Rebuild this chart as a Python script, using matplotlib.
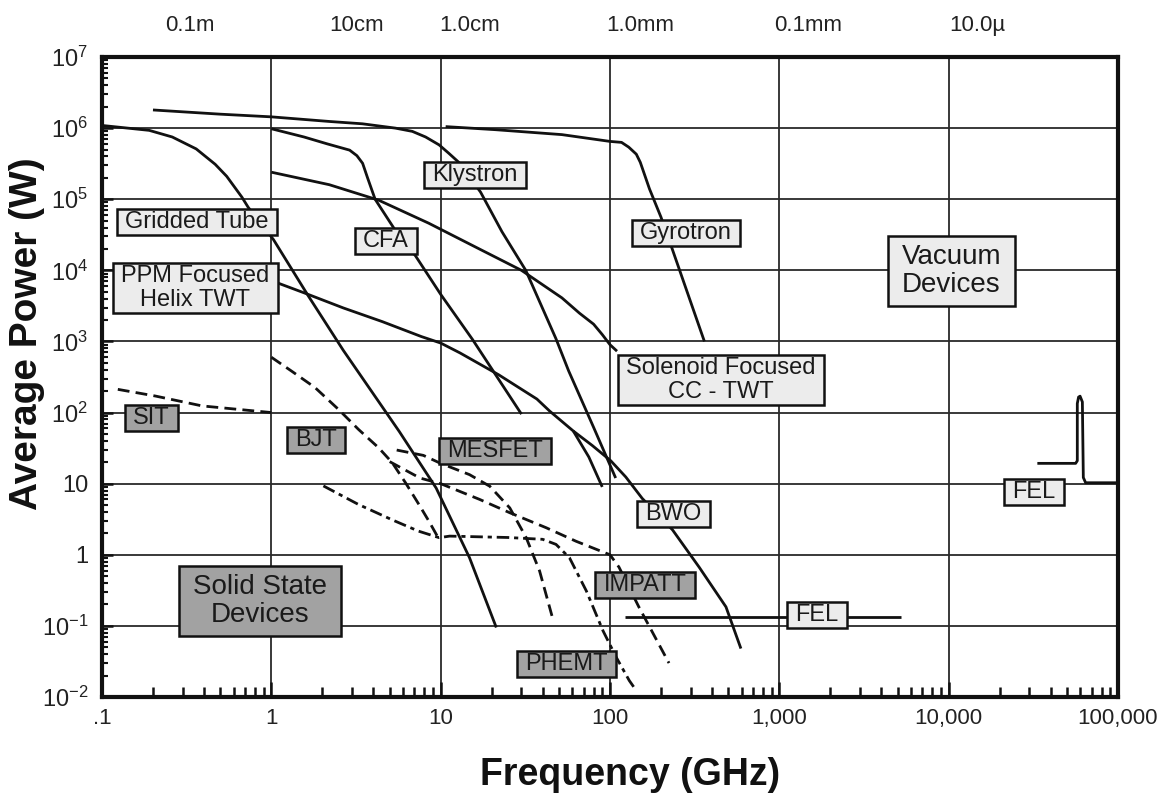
import matplotlib
matplotlib.use('Agg')
import matplotlib.pyplot as plt
from matplotlib.path import Path
from matplotlib.ticker import FixedLocator, NullFormatter

plt.rcParams['font.family'] = ['Liberation Sans', 'DejaVu Sans']
plt.rcParams['mathtext.fontset'] = 'custom'
plt.rcParams['mathtext.rm'] = 'Liberation Sans'
plt.rcParams['mathtext.it'] = 'Liberation Sans:italic'
plt.rcParams['mathtext.bf'] = 'Liberation Sans:bold'
plt.rcParams['lines.scale_dashes'] = False

# ---------------- axis ticks / labels ----------------
freq_ticks = [0.1, 1, 10, 100, 1000, 10000, 100000]
freq_ticklabels = ['.1', '1', '10', '100', '1,000', '10,000', '100,000']
power_ticks = [1e-2, 1e-1, 1, 10, 1e2, 1e3, 1e4, 1e5, 1e6, 1e7]
power_ticklabels = [r'$10^{-2}$', r'$10^{-1}$', '1', '10', r'$10^{2}$',
                    r'$10^{3}$', r'$10^{4}$', r'$10^{5}$', r'$10^{6}$', r'$10^{7}$']
wavelength_pos = [0.33, 3.2, 14.8, 150, 1480, 14800]
wavelength_labels = ['0.1m', '10cm', '1.0cm', '1.0mm', '0.1mm', '10.0\u00b5']

# ---------------- vacuum devices (solid lines) ----------------
klystron_f = [0.2, 0.5, 1, 2.2, 3.45, 5.4, 6.8, 8.15, 9.8, 11.2, 12.8, 17.2, 23, 31.8, 47.9, 57, 80, 108]
klystron_p = [1.8e6, 1.57e6, 1.44e6, 1.24e6, 1.15e6, 1.0e6, 9.0e5, 7.5e5, 5.8e5, 4.4e5, 3.3e5,
              1.26e5, 3.5e4, 1.0e4, 1.1e3, 385, 62, 12]

gridded_f = [0.1, 0.19, 0.26, 0.36, 0.466, 0.545, 0.67, 0.73, 1.03, 1.65, 2.66, 5.7, 9.4, 14.8, 21.3]
gridded_p = [1.09e6, 9.3e5, 7.5e5, 5.1e5, 3.1e5, 2.1e5, 1.07e5, 7.7e4, 2.7e4, 4.4e3, 7.5e2,
             54, 8.7, 0.91, 0.095]

cfa_f = [1, 1.56, 2.14, 2.9, 3.2, 3.46, 3.7, 4.1, 5.3, 7.1, 10, 15.4, 30]
cfa_p = [9.8e5, 7.5e5, 6.0e5, 4.9e5, 4.1e5, 3.2e5, 2.0e5, 1.0e5, 3.9e4, 1.6e4, 4.6e3, 1.07e3, 95]

solenoid_f = [1, 2.2, 4.3, 8.5, 16.9, 30, 52, 66, 80, 90, 100, 110]
solenoid_p = [2.4e5, 1.6e5, 9.7e4, 4.6e4, 2.0e4, 1.0e4, 4.1e3, 2.5e3, 1.75e3, 1.25e3, 9.0e2, 7.3e2]

ppm_f = [1.08, 1.57, 2.66, 4.52, 7.7, 10, 13, 22, 37, 44, 60.7, 75, 90]
ppm_p = [6.7e3, 4.8e3, 2.96e3, 1.9e3, 1.17e3, 950, 690, 340, 155, 105, 55, 23.7, 9]

bwo_f = [60.7, 78.6, 101, 124, 155, 234, 336, 484, 593]
bwo_p = [55, 34.4, 21, 12.4, 6.2, 2.24, 0.67, 0.185, 0.048]

gyrotron_f = [10.7, 21.1, 52, 100, 117, 129, 143, 151, 171, 200, 233, 361]
gyrotron_p = [1.05e6, 9.5e5, 8.1e5, 6.5e5, 6.3e5, 5.4e5, 4.3e5, 3.3e5, 1.4e5, 5.6e4, 2.0e4, 1.0e3]

fel_lo_f = [123, 5200]
fel_lo_p = [0.135, 0.135]

fel_hi_f = [33400, 56200, 57500, 57500, 58500, 59700, 61600, 62400, 64400, 100000]
fel_hi_p = [19.3, 19.3, 21, 134, 165, 170, 141, 12.2, 10.3, 10.3]

# ---------------- solid state devices (dashed lines) ----------------
sit_f = [0.124, 0.206, 0.39, 1]
sit_p = [212, 171, 124, 100]

bjt_f = [1, 1.31, 1.81, 2.49, 3.27, 4.3, 5.17, 6.2, 7.44, 8.5, 9.8]
bjt_p = [600, 386, 225, 111, 58, 32, 19.8, 10.3, 5.1, 3.0, 1.64]

mesfet_f = [5.5, 7.9, 9.9, 14.8, 19.5, 25.6, 32, 38.4, 46]
mesfet_p = [29.7, 25, 19.5, 13.4, 9.2, 4.56, 1.74, 0.59, 0.124]

impatt_f = [5.0, 7.55, 10, 17, 25.6, 42, 63, 100, 113, 148, 223]
impatt_p = [20.4, 12, 10, 6.0, 3.9, 2.4, 1.55, 1.0, 0.67, 0.185, 0.03]

phemt_f = [2.03, 3.27, 5.17, 7.4, 9.8, 11.3, 25, 40, 48, 57.6, 72.5, 91, 109, 130, 142]
phemt_p = [9.3, 5.1, 3.1, 2.15, 1.74, 1.83, 1.75, 1.65, 1.4, 0.91, 0.31, 0.085, 0.036, 0.017, 0.0126]


def box_style(px, py):
    def _box(x0, y0, width, height, mutation_size):
        dx = px * mutation_size
        dy = py * mutation_size
        xa, ya = x0 - dx, y0 - dy
        xb, yb = x0 + width + dx, y0 + height + dy
        return Path([(xa, ya), (xb, ya), (xb, yb), (xa, yb), (xa, ya)], closed=True)
    return _box


W, H = 1170, 797
fig = plt.figure(figsize=(W / 100, H / 100), dpi=100)
L, R, T, B = 102, 1118, 57, 697
ax = fig.add_axes([L / W, 1 - B / H, (R - L) / W, (B - T) / H])
ax.set_xscale('log')
ax.set_yscale('log')
ax.set_xlim(0.1, 1e5)
ax.set_ylim(1e-2, 1e7)

ink = '#111111'
ax.grid(True, which='major', color='#2a2a2a', lw=1.3, zorder=1)
for s in ax.spines.values():
    s.set_linewidth(3.0)
    s.set_color(ink)
    s.set_zorder(6)

ax.xaxis.set_major_locator(FixedLocator(freq_ticks))
ax.set_xticklabels(freq_ticklabels)
ax.yaxis.set_major_locator(FixedLocator(power_ticks))
ax.set_yticklabels(power_ticklabels)
ax.tick_params(axis='both', which='both', direction='in', top=False, right=False, color=ink)
ax.tick_params(axis='x', which='major', length=11, width=1.8, labelsize=16, pad=8, labelcolor='#222')
ax.tick_params(axis='x', which='minor', length=7, width=1.8)
ax.tick_params(axis='y', which='major', length=8, width=1.8, labelsize=17, pad=10, labelcolor='#222')
ax.tick_params(axis='y', which='minor', length=4, width=1.5)
ax.yaxis.set_minor_formatter(NullFormatter())
ax.xaxis.set_minor_formatter(NullFormatter())

sec = ax.secondary_xaxis('top')
sec.set_xticks(wavelength_pos)
sec.set_xticklabels(wavelength_labels)
sec.xaxis.set_minor_locator(FixedLocator([]))
sec.tick_params(axis='x', length=0, labelsize=16, pad=15, labelcolor='#222')
sec.spines['top'].set_visible(False)

lw = 2.0
solid = dict(color=ink, lw=lw, zorder=3, solid_capstyle='butt', solid_joinstyle='round')
for f, p in [(klystron_f, klystron_p), (gridded_f, gridded_p), (cfa_f, cfa_p),
             (solenoid_f, solenoid_p), (ppm_f, ppm_p), (bwo_f, bwo_p),
             (gyrotron_f, gyrotron_p), (fel_lo_f, fel_lo_p), (fel_hi_f, fel_hi_p)]:
    ax.plot(f, p, **solid)

dash = (0, (8.5, 4.5))
dashdot = (0, (9, 3.5, 3, 3.5))
for f, p, ls in [(sit_f, sit_p, dash), (bjt_f, bjt_p, dash), (mesfet_f, mesfet_p, dash),
                 (impatt_f, impatt_p, dash), (phemt_f, phemt_p, dashdot)]:
    ax.plot(f, p, color=ink, lw=lw, ls=ls, zorder=3)

light = '#ececec'
gray = '#a2a2a2'
small = 17
big = 20
labels = [
    ('Klystron', 16, 2.2e5, light, small),
    ('Gridded Tube', 0.364, 4.8e4, light, small),
    ('CFA', 4.75, 2.6e4, light, small),
    ('Gyrotron', 282, 3.35e4, light, small),
    ('PPM Focused\nHelix TWT', 0.355, 5.6e3, light, small),
    ('Vacuum\nDevices', 10400, 9.8e3, light, big),
    ('Solenoid Focused\nCC - TWT', 453, 286, light, small),
    ('BWO', 236, 3.74, light, small),
    ('FEL', 1670, 0.142, light, small),
    ('FEL', 32000, 7.6, light, small),
    ('SIT', 0.195, 84, gray, small),
    ('BJT', 1.84, 41, gray, small),
    ('MESFET', 21, 28.7, gray, small),
    ('IMPATT', 161, 0.375, gray, small),
    ('PHEMT', 55, 0.029, gray, small),
    ('Solid State\nDevices', 0.857, 0.223, gray, big),
]
for txt, x, y, fc, fs in labels:
    px = 0.35 if fs == small else 0.5
    py = 0.09 if fs == small else 0.28
    ax.text(x, y, txt, ha='center', va='center', fontsize=fs, color='#1a1a1a',
            linespacing=1.12, zorder=5,
            bbox=dict(boxstyle=box_style(px, py), fc=fc, ec=ink, lw=1.8))

fig.text(27 / W, 1 - 334 / H, 'Average Power (W)', rotation=90, ha='center', va='center',
         fontsize=28, fontweight='bold', color=ink)
fig.text(630 / W, 1 - 775 / H, 'Frequency (GHz)', ha='center', va='center',
         fontsize=27, fontweight='bold', color=ink)

fig.savefig('out.png', dpi=100)
